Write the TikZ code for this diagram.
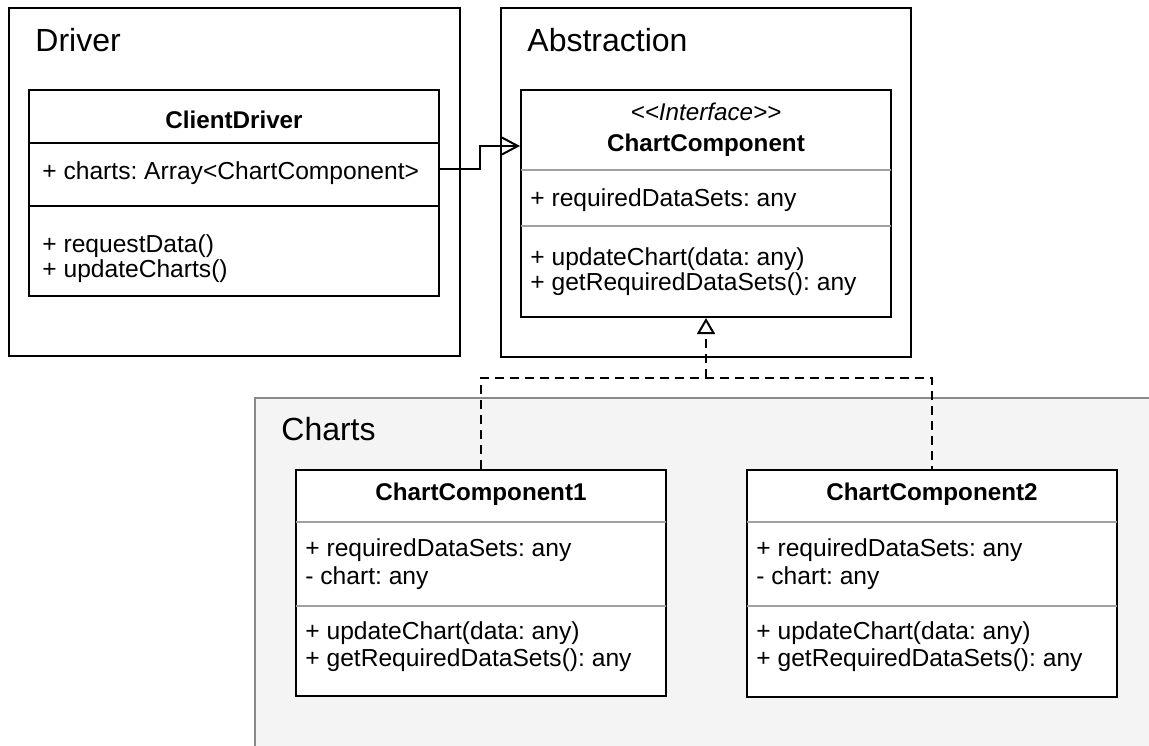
\documentclass[tikz,border=0pt]{standalone}
\usepackage{fontspec}
\setmainfont{Liberation Sans}
\usetikzlibrary{arrows.meta,fit}
\definecolor{pkgfill}{HTML}{F4F4F4}
\definecolor{pkgline}{HTML}{8A8A8A}
\definecolor{sepgray}{HTML}{A0A0A0}
\frenchspacing
\begin{document}
\begin{tikzpicture}[x=0.5pt,y=-0.5pt,
  pkg/.style={draw=black,line width=1pt,inner sep=0pt},
  cls/.style={draw=black,fill=white,line width=1pt,inner sep=0pt},
  sepline/.style={draw=sepgray,line width=1pt},
  sepdark/.style={draw=black,line width=1pt},
  ttl/.style={anchor=base west,font=\fontsize{16}{19}\selectfont,inner sep=0pt},
  mem/.style={anchor=base west,font=\fontsize{12.3}{14}\selectfont,inner sep=0pt},
  cname/.style={anchor=base,font=\fontsize{12.1}{14}\selectfont\bfseries,inner sep=0pt},
  stereo/.style={anchor=base,font=\fontsize{12.1}{14}\selectfont\itshape,inner sep=0pt},
  assoc/.style={draw=black,line width=1pt,-{Straight Barb[length=8pt,width=8.5pt,line width=1pt]}},
  realize/.style={draw=black,line width=1pt,dash pattern=on 4.5pt off 3pt},
  realizetip/.style={-{Triangle[open,length=8pt,width=9pt,line width=1pt,fill=white]}}]
\useasboundingbox (0,0) rectangle (1149,745);
\clip (0,0) rectangle (1149,745);

% packages
\node[pkg,fit={(9,8)(460,356)}] (pdriver) {};
\node[ttl] (tdriver) at (35,51) {Driver};
\node[pkg,fit={(501,8)(911,357)}] (pabs) {};
\node[ttl] (tabs) at (527,51) {Abstraction};
\node[draw=pkgline,fill=pkgfill,line width=1pt,inner sep=0pt,fit={(255,398)(1170,770)}] (pcharts) {};
\node[ttl] (tcharts) at (281,440) {Charts};

% ClientDriver
\node[cls,fit={(29,90)(439,296)}] (cd) {};
\draw[sepdark] (29,143) -- (439,143);
\draw[sepdark] (29,206) -- (439,206);
\node[cname] (cdn) at (234,128) {ClientDriver};
\node[mem] (cda) at (42,179) {+ charts: Array<ChartComponent>};
\node[mem] (cdm1) at (42,252) {+ requestData()};
\node[mem] (cdm2) at (42,277) {+ updateCharts()};

% ChartComponent (interface)
\node[cls,fit={(521,90)(891,317)}] (cc) {};
\draw[sepline] (521,170) -- (891,170);
\draw[sepline] (521,226) -- (891,226);
\node[stereo] (ccs) at (706,120) {<\kern0pt<Interface>\kern0pt>};
\node[cname] (ccn) at (706,151) {ChartComponent};
\node[mem] (cca) at (530,206) {+ requiredDataSets: any};
\node[mem] (ccm1) at (530,265) {+ updateChart(data: any)};
\node[mem] (ccm2) at (530,290) {+ getRequiredDataSets(): any};

% ChartComponent1
\node[cls,fit={(296,470)(666,696)}] (c1) {};
\draw[sepline] (296,522) -- (666,522);
\draw[sepline] (296,606) -- (666,606);
\node[cname] (c1n) at (481,500) {ChartComponent1};
\node[mem] (c1a1) at (305,556) {+ requiredDataSets: any};
\node[mem] (c1a2) at (305,584) {- chart: any};
\node[mem] (c1m1) at (305,639) {+ updateChart(data: any)};
\node[mem] (c1m2) at (305,666) {+ getRequiredDataSets(): any};

% ChartComponent2
\node[cls,fit={(747,470)(1117,697)}] (c2) {};
\draw[sepline] (747,522) -- (1117,522);
\draw[sepline] (747,606) -- (1117,606);
\node[cname] (c2n) at (932,500) {ChartComponent2};
\node[mem] (c2a1) at (756,556) {+ requiredDataSets: any};
\node[mem] (c2a2) at (756,584) {- chart: any};
\node[mem] (c2m1) at (756,639) {+ updateChart(data: any)};
\node[mem] (c2m2) at (756,666) {+ getRequiredDataSets(): any};

% association
\coordinate (j1) at (480,169);
\coordinate (j2) at (480,146);
\draw[assoc] (cd.east |- j1) -- (j1) -- (j2) -- (cc.west |- j2);

% realization
\coordinate (bus) at (706,378);
\draw[realize] (c1.north) -- (c1.north |- bus) -- (c2.north |- bus) -- (c2.north);
\draw[realize,realizetip] (bus) -- (cc.south);
\end{tikzpicture}
\end{document}
